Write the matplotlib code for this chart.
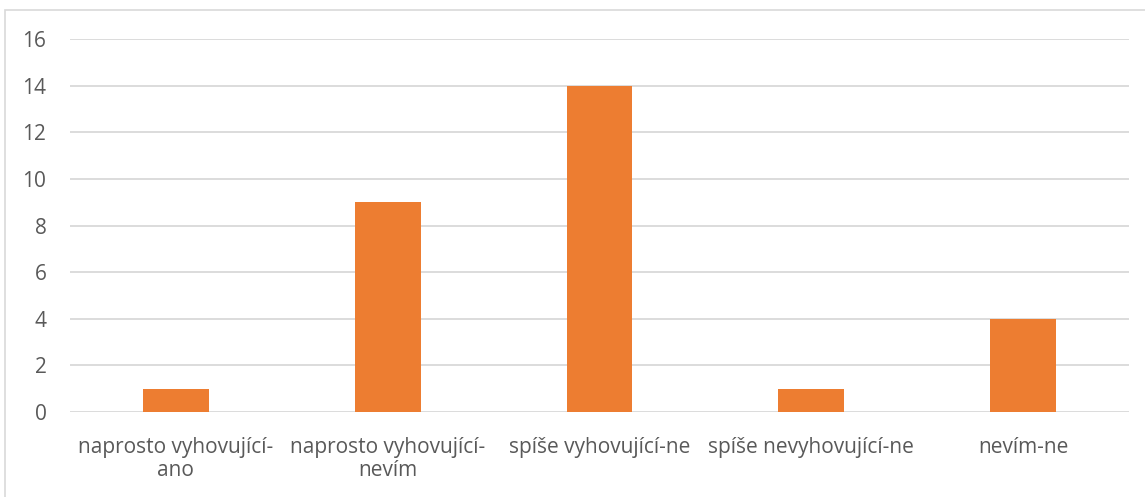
import matplotlib.pyplot as plt
from matplotlib.patches import Rectangle

categories = ['naprosto vyhovující-\nano', 'naprosto vyhovující-\nnevím',
              'spíše vyhovující-ne', 'spíše nevyhovující-ne', 'nevím-ne']
counts = [1, 9, 14, 1, 4]
y_ticks = [0, 2, 4, 6, 8, 10, 12, 14, 16]

plt.rcParams['font.family'] = ['Open Sans', 'DejaVu Sans']

fig = plt.figure(figsize=(11.45, 4.97), dpi=100)
ax = fig.add_axes([70 / 1145, 85 / 497, 1059 / 1145, 373 / 497])

# chart frame
fig.patches.append(Rectangle((5 / 1145, -0.01), 1.0, 1 - 10 / 497 + 0.01,
                             transform=fig.transFigure, fill=False,
                             edgecolor='#d9d9d9', linewidth=1.2))

x = range(len(categories))
ax.bar(x, counts, width=0.31, color='#ED7D31', zorder=3)

ax.set_xlim(-0.5, len(categories) - 0.5)
ax.set_ylim(0, 16)
ax.set_yticks(y_ticks)
ax.set_xticks(list(x))
ax.set_xticklabels(categories, linespacing=1.1)
ax.yaxis.grid(True, color='#d9d9d9', linewidth=1.3, zorder=0)
for s in ax.spines.values():
    s.set_visible(False)
ax.tick_params(axis='both', length=0, colors='#595959', labelsize=15)
ax.tick_params(axis='y', pad=17)
ax.tick_params(axis='x', pad=18)

fig.savefig('out.png', dpi=100)
